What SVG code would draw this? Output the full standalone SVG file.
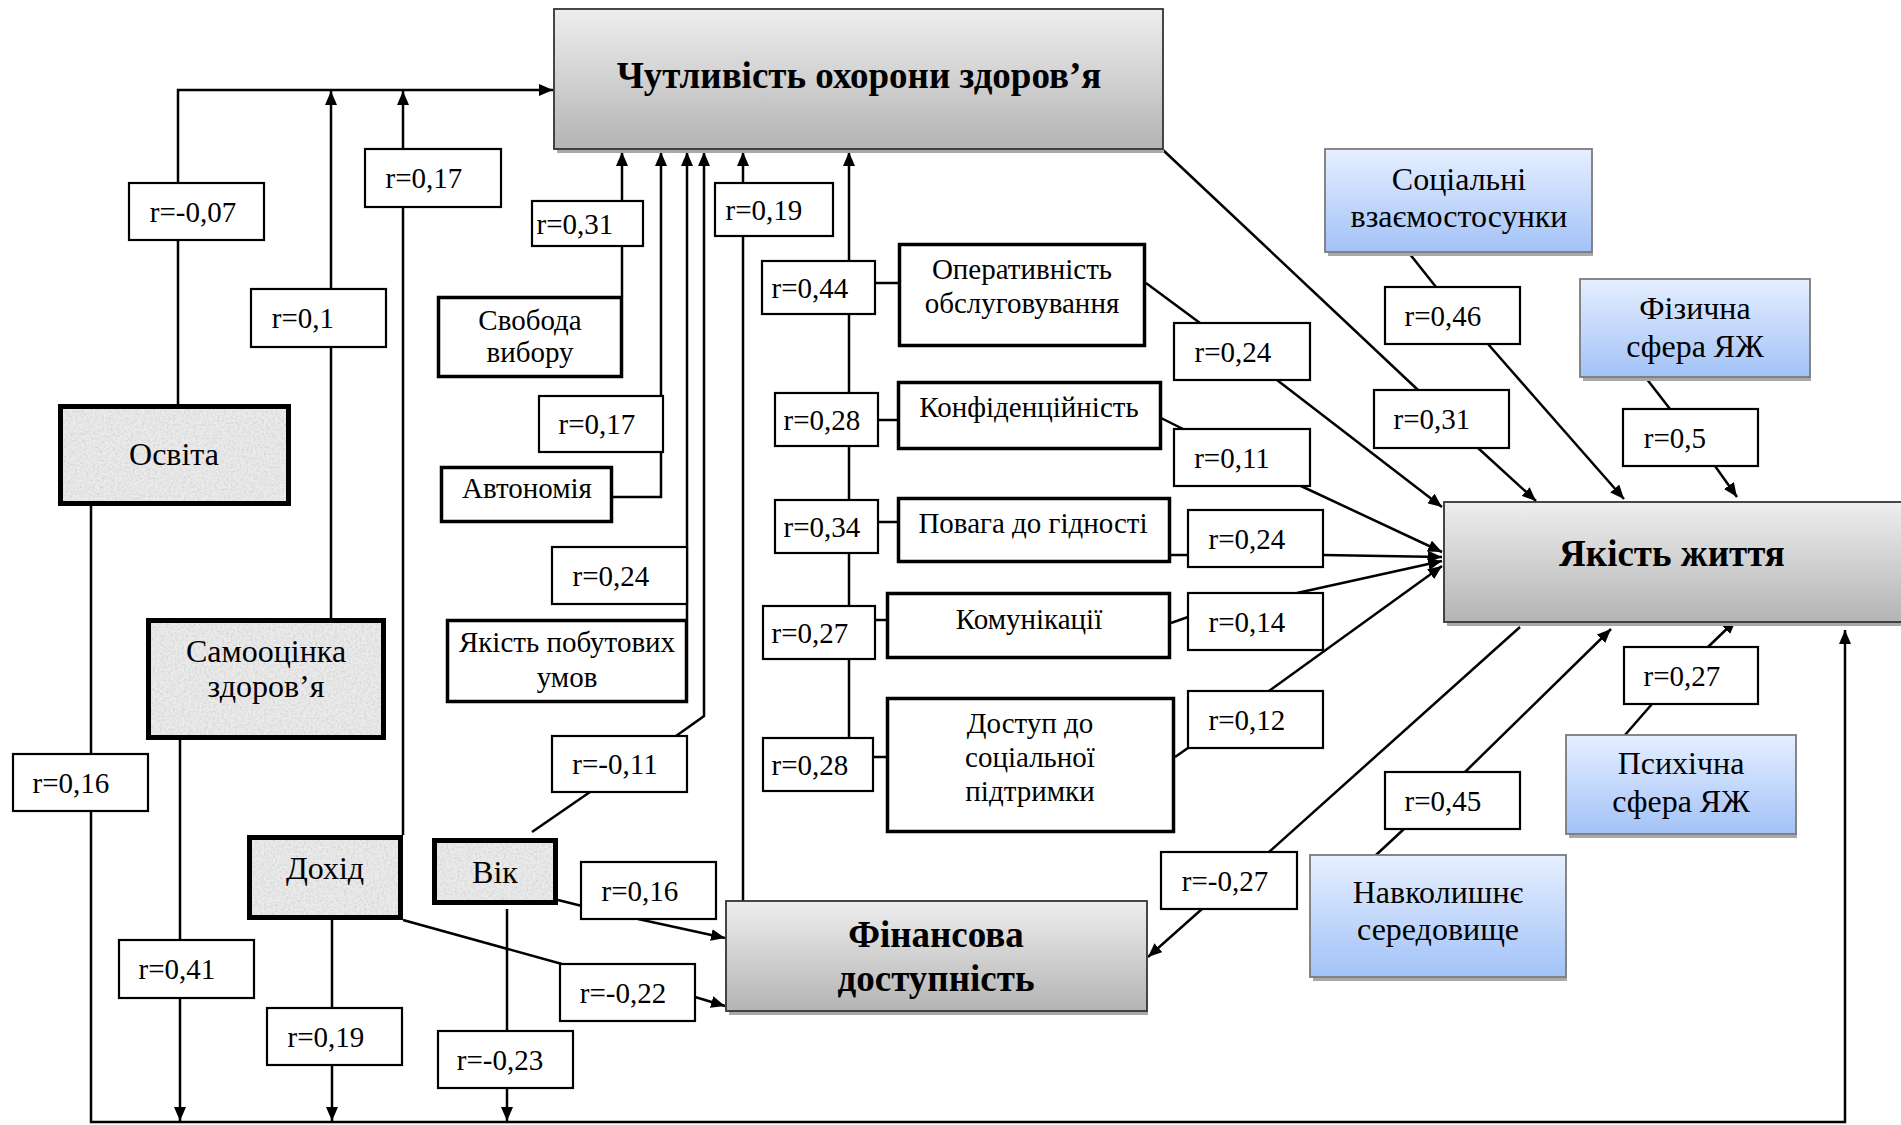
<svg xmlns="http://www.w3.org/2000/svg" width="1901" height="1125" viewBox="0 0 1901 1125">
<style>
.t{font-family:"Liberation Serif","Times New Roman",serif;font-size:29px;fill:#000;text-anchor:middle}
.t2{font-family:"Liberation Serif","Times New Roman",serif;font-size:32px;fill:#000;text-anchor:middle}
.tb{font-family:"Liberation Serif","Times New Roman",serif;font-size:37px;font-weight:bold;fill:#000;text-anchor:middle}
.ln{fill:none;stroke:#000;stroke-width:2.5}
.ar{marker-end:url(#ah)}
.lb{fill:#fff;stroke:#000;stroke-width:2.2}
.bx{fill:#fff;stroke:#000;stroke-width:3.5}
.tx{fill:#ebebeb;filter:url(#grain)}
.txb{fill:none;stroke:#000;stroke-width:5}
.gr{fill:url(#gg);stroke:#333;stroke-width:1.8}
.bl{fill:url(#bg);stroke:#7a7a7a;stroke-width:1.8}
.sh{fill:#a8a8a8}
</style>
<defs>
<marker id="ah" viewBox="0 0 14 12" refX="14" refY="6" markerWidth="14" markerHeight="12" markerUnits="userSpaceOnUse" orient="auto">
<path d="M0,0 L14,6 L0,12 z" fill="#000"/>
</marker>
<linearGradient id="gg" x1="0" y1="0" x2="0" y2="1">
<stop offset="0" stop-color="#eeeeee"/>
<stop offset="1" stop-color="#b4b4b4"/>
</linearGradient>
<linearGradient id="bg" x1="0" y1="0" x2="0" y2="1">
<stop offset="0" stop-color="#e6efff"/>
<stop offset="1" stop-color="#a2c2f7"/>
</linearGradient>
<filter id="grain" x="0" y="0" width="1" height="1">
<feTurbulence type="fractalNoise" baseFrequency="0.45" numOctaves="3" seed="4" result="n"/>
<feColorMatrix in="n" type="matrix" values="0 0 0 0 0.55  0 0 0 0 0.55  0 0 0 0 0.55  0 0 0 1.2 -0.45" result="g"/>
<feComposite in="g" in2="SourceGraphic" operator="atop"/>
</filter>
</defs>
<rect width="1901" height="1125" fill="#fff"/>

<g id="connectors">
<path class="ln ar" d="M178,404 V90 H553"/>
<path class="ln ar" d="M331,618 V91"/>
<path class="ln ar" d="M403,835 V91"/>
<path class="ln ar" d="M91,506 V1122 H1845 V630"/>
<path class="ln ar" d="M180,740 V1121"/>
<path class="ln ar" d="M332,920 V1121"/>
<path class="ln ar" d="M507,909 V1121"/>
<path class="ln" d="M403,920 L562,964"/>
<path class="ln ar" d="M695,997 L725,1006"/>
<path class="ln" d="M558,900 L582,906"/>
<path class="ln ar" d="M638,919 L725,938"/>
<path class="ln" d="M532,832 L590,792"/>
<path class="ln ar" d="M676,736 L704,716 V152"/>
<path class="ln ar" d="M622,296 V152"/>
<path class="ln ar" d="M613,497 H661 V152"/>
<path class="ln ar" d="M687,619 V152"/>
<path class="ln ar" d="M743,902 V152"/>
<path class="ln ar" d="M849,738 V152"/>
<path class="ln" d="M875,283 H898 M878,420 H897 M878,522 H897 M875,620 H886 M873,757 H886"/>
<path class="ln" d="M1163,150 L1418,390"/>
<path class="ln ar" d="M1478,448 L1536,501"/>
<path class="ln" d="M1409,253 L1436,287"/>
<path class="ln ar" d="M1488,344 L1624,499"/>
<path class="ln" d="M1646,378 L1670,409"/>
<path class="ln ar" d="M1715,466 L1737,497"/>
<path class="ln" d="M1146,283 L1200,323"/>
<path class="ln ar" d="M1277,380 L1442,507"/>
<path class="ln" d="M1161,418 L1185,430"/>
<path class="ln ar" d="M1301,486 L1442,552"/>
<path class="ln" d="M1171,555 H1188"/>
<path class="ln ar" d="M1323,555 L1442,557"/>
<path class="ln" d="M1171,623 L1188,617"/>
<path class="ln ar" d="M1297,593 L1442,561"/>
<path class="ln" d="M1175,757 L1188,748"/>
<path class="ln ar" d="M1269,691 L1442,566"/>
<path class="ln" d="M1520,627 L1269,852"/>
<path class="ln ar" d="M1202,909 L1148,957"/>
<path class="ln" d="M1376,855 L1404,829"/>
<path class="ln ar" d="M1465,772 L1611,629"/>
<path class="ln" d="M1625,735 L1652,704"/>
<path class="ln ar" d="M1708,647 L1736,620"/>
</g>

<g id="labels">
<rect class="lb" x="129" y="183" width="135" height="57"/><text class="t" x="193" y="222">r=-0,07</text>
<rect class="lb" x="251" y="289" width="135" height="58"/><text class="t" x="303" y="328">r=0,1</text>
<rect class="lb" x="365" y="149" width="136" height="58"/><text class="t" x="424" y="188">r=0,17</text>
<rect class="lb" x="532" y="201" width="111" height="45"/><text class="t" x="575" y="234">r=0,31</text>
<rect class="lb" x="539" y="396" width="124" height="56"/><text class="t" x="597" y="434">r=0,17</text>
<rect class="lb" x="552" y="547" width="135" height="57"/><text class="t" x="611" y="586">r=0,24</text>
<rect class="lb" x="552" y="736" width="135" height="56"/><text class="t" x="615" y="774">r=-0,11</text>
<rect class="lb" x="581" y="862" width="135" height="57"/><text class="t" x="640" y="901">r=0,16</text>
<rect class="lb" x="560" y="964" width="135" height="57"/><text class="t" x="623" y="1003">r=-0,22</text>
<rect class="lb" x="13" y="754" width="135" height="57"/><text class="t" x="71" y="793">r=0,16</text>
<rect class="lb" x="119" y="940" width="135" height="58"/><text class="t" x="177" y="979">r=0,41</text>
<rect class="lb" x="267" y="1008" width="135" height="57"/><text class="t" x="326" y="1047">r=0,19</text>
<rect class="lb" x="438" y="1031" width="135" height="57"/><text class="t" x="500" y="1070">r=-0,23</text>
<rect class="lb" x="715" y="183" width="118" height="53"/><text class="t" x="764" y="220">r=0,19</text>
<rect class="lb" x="762" y="261" width="113" height="53"/><text class="t" x="810" y="298">r=0,44</text>
<rect class="lb" x="775" y="393" width="103" height="53"/><text class="t" x="822" y="430">r=0,28</text>
<rect class="lb" x="775" y="500" width="103" height="53"/><text class="t" x="822" y="537">r=0,34</text>
<rect class="lb" x="763" y="606" width="112" height="53"/><text class="t" x="810" y="643">r=0,27</text>
<rect class="lb" x="763" y="738" width="110" height="53"/><text class="t" x="810" y="775">r=0,28</text>
<rect class="lb" x="1174" y="323" width="136" height="57"/><text class="t" x="1233" y="362">r=0,24</text>
<rect class="lb" x="1174" y="429" width="136" height="57"/><text class="t" x="1232" y="468">r=0,11</text>
<rect class="lb" x="1188" y="510" width="135" height="57"/><text class="t" x="1247" y="549">r=0,24</text>
<rect class="lb" x="1188" y="593" width="135" height="57"/><text class="t" x="1247" y="632">r=0,14</text>
<rect class="lb" x="1188" y="691" width="135" height="57"/><text class="t" x="1247" y="730">r=0,12</text>
<rect class="lb" x="1374" y="390" width="135" height="58"/><text class="t" x="1432" y="429">r=0,31</text>
<rect class="lb" x="1385" y="287" width="135" height="57"/><text class="t" x="1443" y="326">r=0,46</text>
<rect class="lb" x="1623" y="409" width="135" height="57"/><text class="t" x="1675" y="448">r=0,5</text>
<rect class="lb" x="1624" y="647" width="134" height="57"/><text class="t" x="1682" y="686">r=0,27</text>
<rect class="lb" x="1385" y="772" width="135" height="57"/><text class="t" x="1443" y="811">r=0,45</text>
<rect class="lb" x="1161" y="852" width="136" height="57"/><text class="t" x="1225" y="891">r=-0,27</text>
</g>

<g id="n-chutlyvist">
<rect class="sh" x="557" y="149" width="607" height="4"/>
<rect class="gr" x="554" y="9" width="609" height="140"/>
<text class="tb" x="859" y="88">Чутливість охорони здоров’я</text>
</g>
<g id="n-yakist-zhyttia">
<rect class="sh" x="1447" y="622" width="460" height="4"/>
<rect class="gr" x="1444" y="502" width="462" height="120"/>
<text class="tb" x="1672" y="566">Якість життя</text>
</g>
<g id="n-finansova">
<rect class="sh" x="729" y="1011" width="419" height="4"/>
<rect class="gr" x="726" y="901" width="421" height="110"/>
<text class="tb" x="936" y="947">Фінансова</text>
<text class="tb" x="936" y="991">доступність</text>
</g>
<g id="n-sotsialni">
<rect class="sh" x="1328" y="252" width="265" height="4"/>
<rect class="bl" x="1325" y="149" width="267" height="103"/>
<text class="t2" x="1459" y="190">Соціальні</text>
<text class="t2" x="1459" y="227">взаємостосунки</text>
</g>
<g id="n-fizychna">
<rect class="sh" x="1583" y="377" width="228" height="4"/>
<rect class="bl" x="1580" y="279" width="230" height="98"/>
<text class="t2" x="1695" y="319">Фізична</text>
<text class="t2" x="1695" y="357">сфера ЯЖ</text>
</g>
<g id="n-psykhichna">
<rect class="sh" x="1569" y="834" width="228" height="4"/>
<rect class="bl" x="1566" y="735" width="230" height="99"/>
<text class="t2" x="1681" y="774">Психічна</text>
<text class="t2" x="1681" y="812">сфера ЯЖ</text>
</g>
<g id="n-navkolyshnie">
<rect class="sh" x="1313" y="977" width="254" height="4"/>
<rect class="bl" x="1310" y="855" width="256" height="122"/>
<text class="t2" x="1438" y="903">Навколишнє</text>
<text class="t2" x="1438" y="940">середовище</text>
</g>
<g id="n-osvita">
<rect class="tx" x="58" y="404" width="233" height="102"/>
<rect class="txb" x="60.5" y="406.5" width="228" height="97"/>
<text class="t2" x="174" y="465">Освіта</text>
</g>
<g id="n-samootsinka">
<rect class="tx" x="146" y="618" width="240" height="122"/>
<rect class="txb" x="148.5" y="620.5" width="235" height="117"/>
<text class="t2" x="266" y="662">Самооцінка</text>
<text class="t2" x="266" y="697">здоров’я</text>
</g>
<g id="n-dokhid">
<rect class="tx" x="247" y="835" width="156" height="85"/>
<rect class="txb" x="249.5" y="837.5" width="151" height="80"/>
<text class="t2" x="325" y="879">Дохід</text>
</g>
<g id="n-vik">
<rect class="tx" x="432" y="838" width="126" height="67"/>
<rect class="txb" x="434.5" y="840.5" width="121" height="62"/>
<text class="t2" x="495" y="883">Вік</text>
</g>
<g id="n-svoboda">
<rect class="bx" x="438.5" y="297.5" width="183" height="79"/>
<text class="t" x="530" y="330">Свобода</text>
<text class="t" x="530" y="362">вибору</text>
</g>
<g id="n-avtonomiia">
<rect class="bx" x="441.5" y="467.5" width="170" height="54"/>
<text class="t" x="527" y="498">Автономія</text>
</g>
<g id="n-pobutovi">
<rect class="bx" x="447.5" y="620.5" width="239" height="81"/>
<text class="t" x="567" y="652">Якість побутових</text>
<text class="t" x="567" y="687">умов</text>
</g>
<g id="n-operatyvnist">
<rect class="bx" x="899.5" y="244.5" width="245" height="101"/>
<text class="t" x="1022" y="279">Оперативність</text>
<text class="t" x="1022" y="313">обслуговування</text>
</g>
<g id="n-konfidentsiinist">
<rect class="bx" x="898.5" y="382.5" width="262" height="66"/>
<text class="t" x="1029" y="417">Конфіденційність</text>
</g>
<g id="n-povaga">
<rect class="bx" x="898.5" y="498.5" width="271" height="63"/>
<text class="t" x="1033" y="533">Повага до гідності</text>
</g>
<g id="n-komunikatsii">
<rect class="bx" x="887.5" y="593.5" width="282" height="64"/>
<text class="t" x="1029" y="629">Комунікації</text>
</g>
<g id="n-dostup">
<rect class="bx" x="887.5" y="698.5" width="286" height="133"/>
<text class="t" x="1030" y="733">Доступ до</text>
<text class="t" x="1030" y="767">соціальної</text>
<text class="t" x="1030" y="801">підтримки</text>
</g>
</svg>
